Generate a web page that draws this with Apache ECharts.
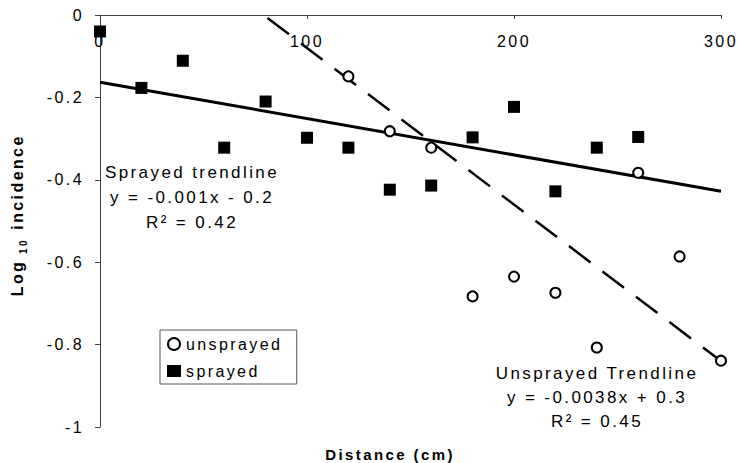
<!DOCTYPE html>
<html>
<head>
<meta charset="utf-8">
<script src="https://cdn.jsdelivr.net/npm/echarts@6/dist/echarts.min.js"></script>
<style>
  html, body { margin: 0; padding: 0; background: #fff; }
  #chart { width: 738px; height: 463px; }
  /* the printed figure uses widely tracked lettering */
  #chart text { letter-spacing: 2.4px; }
</style>
</head>
<body>
<div id="chart"></div>
<script>
// Log10 incidence, sprayed plots (0 to 260 cm)
const sprayedX = [0, 20, 40, 60, 80, 100, 120, 140, 160, 180, 200, 220, 240, 260];
const sprayedY = [-0.04, -0.177, -0.111, -0.322, -0.21, -0.298, -0.322, -0.424, -0.414, -0.297, -0.223, -0.428, -0.322, -0.296];

// Log10 incidence, unsprayed plots (120 to 300 cm)
const unsprayedX = [120, 140, 160, 180, 200, 220, 240, 260, 280, 300];
const unsprayedY = [-0.149, -0.282, -0.322, -0.683, -0.635, -0.674, -0.807, -0.383, -0.586, -0.839];

// Fitted trendlines, as end points over the distance range
const sprayedTrendX = [0, 300];
const sprayedTrendY = [-0.163, -0.428];
const unsprayedTrendX = [0, 300];
const unsprayedTrendY = [0.3, -0.84];

// Axis ticks
const xTicks = [0, 100, 200, 300];
const yTicks = [0, -0.2, -0.4, -0.6, -0.8, -1];

const pairs = (xs, ys) => xs.map((x, i) => [x, ys[i]]);

const FONT = '"Liberation Sans", Arial, sans-serif';
const UP = Math.PI / 2;

const chart = echarts.init(document.getElementById('chart'), null, { renderer: 'svg' });

chart.setOption({
  animation: false,
  backgroundColor: '#ffffff',
  grid: { left: 100, right: 17, top: 15, bottom: 36, containLabel: false },
  xAxis: {
    type: 'value',
    position: 'top',
    min: xTicks[0],
    max: xTicks[xTicks.length - 1],
    interval: xTicks[1] - xTicks[0],
    axisLine: { onZero: false, lineStyle: { color: '#444', width: 1 } },
    axisTick: { show: true, inside: true, length: 4, lineStyle: { color: '#444' } },
    axisLabel: { inside: true, margin: 18, color: '#000', fontSize: 16, fontFamily: FONT },
    splitLine: { show: false }
  },
  yAxis: {
    type: 'value',
    min: yTicks[yTicks.length - 1],
    max: yTicks[0],
    interval: 0.2,
    axisLine: { show: true, lineStyle: { color: '#444', width: 1 } },
    axisTick: { show: true, inside: false, length: 5, lineStyle: { color: '#444' } },
    axisLabel: {
      margin: 16, color: '#000', fontSize: 16, fontFamily: FONT,
      formatter: v => String(Math.round(v * 10) / 10)
    },
    splitLine: { show: false }
  },
  legend: {
    data: ['unsprayed', 'sprayed'],
    orient: 'vertical',
    left: 160,
    top: 330,
    padding: [6, 36, 5, 7],
    itemGap: 11,
    itemWidth: 14,
    itemHeight: 12,
    borderColor: '#555',
    borderWidth: 1,
    backgroundColor: '#fff',
    textStyle: { color: '#000', fontSize: 16, fontFamily: FONT }
  },
  series: [
    {
      name: 'sprayed trendline',
      type: 'line',
      data: pairs(sprayedTrendX, sprayedTrendY),
      showSymbol: false,
      symbol: 'none',
      clip: true,
      lineStyle: { color: '#000', width: 3 },
      z: 1
    },
    {
      name: 'unsprayed trendline',
      type: 'line',
      data: pairs(unsprayedTrendX, unsprayedTrendY),
      showSymbol: false,
      symbol: 'none',
      clip: true,
      lineStyle: { color: '#000', width: 2.5, type: [27, 15] },
      z: 1
    },
    {
      name: 'unsprayed',
      type: 'scatter',
      data: pairs(unsprayedX, unsprayedY),
      symbol: 'emptyCircle',
      symbolSize: 10,
      itemStyle: { color: '#000', borderColor: '#000', borderWidth: 2, opacity: 1 },
      z: 3
    },
    {
      name: 'sprayed',
      type: 'scatter',
      data: pairs(sprayedX, sprayedY),
      symbol: 'rect',
      symbolSize: 12,
      itemStyle: { color: '#000', opacity: 1 },
      z: 3
    }
  ],
  graphic: [
    // y-axis title: "Log" with subscript "10", then "incidence", reading upwards
    {
      type: 'text', x: 17, y: 278, rotation: UP, z: 10,
      style: { text: 'Log', textAlign: 'center', textVerticalAlign: 'middle', fill: '#000', font: 'bold 16px ' + FONT }
    },
    {
      type: 'text', x: 23, y: 246, rotation: UP, z: 10,
      style: { text: '10', textAlign: 'center', textVerticalAlign: 'middle', fill: '#000', font: 'bold 10px ' + FONT }
    },
    {
      type: 'text', x: 17, y: 182, rotation: UP, z: 10,
      style: { text: 'incidence', textAlign: 'center', textVerticalAlign: 'middle', fill: '#000', font: 'bold 16px ' + FONT }
    },
    {
      type: 'text', x: 192, y: 197, z: 10,
      style: {
        text: 'Sprayed trendline\ny = -0.001x - 0.2\nR\u00b2 = 0.42',
        textAlign: 'center', textVerticalAlign: 'middle',
        lineHeight: 25, fill: '#000', font: '17px ' + FONT
      }
    },
    {
      type: 'text', x: 597, y: 397, z: 10,
      style: {
        text: 'Unsprayed Trendline\ny = -0.0038x + 0.3\nR\u00b2 = 0.45',
        textAlign: 'center', textVerticalAlign: 'middle',
        lineHeight: 24, fill: '#000', font: '17px ' + FONT
      }
    },
    {
      type: 'text', x: 390, y: 454, z: 10,
      style: {
        text: 'Distance (cm)',
        textAlign: 'center', textVerticalAlign: 'middle',
        fill: '#000', font: 'bold 15px ' + FONT
      }
    }
  ]
});
</script>
</body>
</html>
